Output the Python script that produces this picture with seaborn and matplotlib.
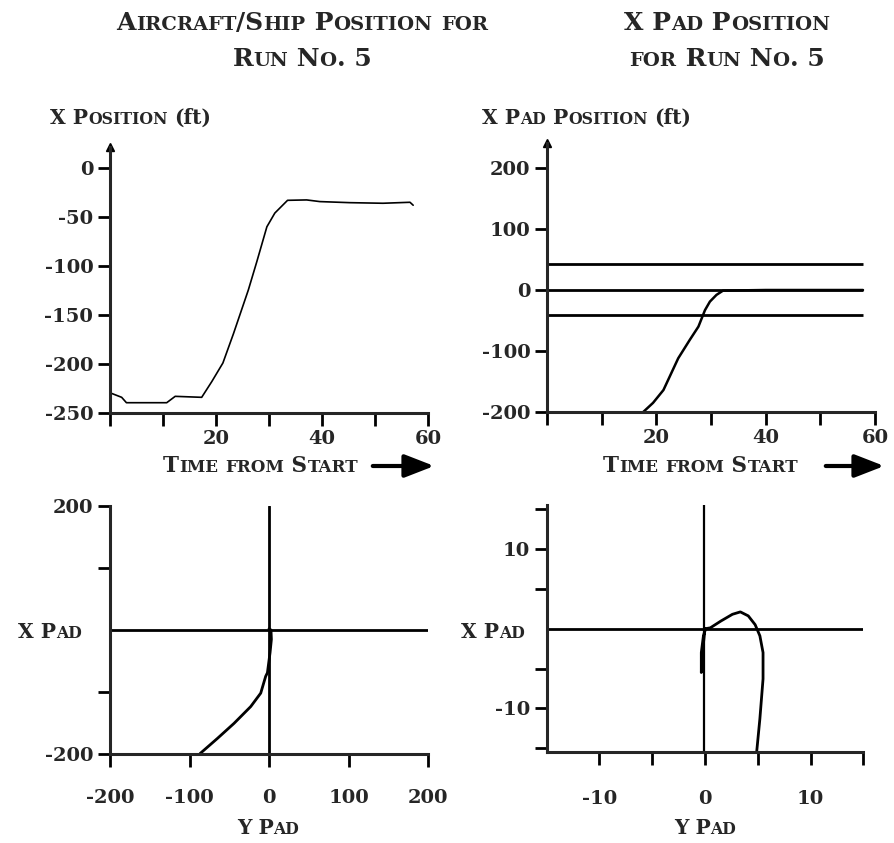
import matplotlib
matplotlib.use("Agg")
import pandas as pd
import seaborn as sns
import matplotlib.pyplot as plt

W, H = 894, 843

# Aircraft/ship X position vs time (top left)
time_tl = [0.3, 2.2, 3.1, 10.7, 12.3, 17.3, 19.2, 21.3, 23.3, 26.1, 27.7, 29.6,
           31.1, 33.5, 37.1, 39.6, 45.3, 51.5, 56.6, 57.2]
xpos_tl = [-230, -234, -239.5, -239.5, -233, -234, -218, -199, -169, -124.5, -95.6, -60,
           -46, -33, -32.6, -34.3, -35.4, -36, -35, -38]

# X pad position vs time (top right)
time_tr = [17.6, 19.4, 21.3, 24.0, 26.1, 27.7, 28.9, 29.8, 31.0, 32.2, 40.0, 50.0, 57.8]
xpad_tr = [-200, -185, -164, -112, -82, -60, -33, -19, -8, -1, 0, 0, 0]
pad_limits = [42, 0, -41]
pad_time_end = 57.8

# X pad vs Y pad, wide view (bottom left)
ypad_bl = [-86.8, -65, -44, -23, -10.4, -4.2, -2, 1.3, 3, 2.5, 0]
xpad_bl = [-199.4, -175, -150.6, -123.5, -101.8, -74.8, -69, -36.7, -15, 0, 2]

# X pad vs Y pad, close view (bottom right)
ypad_br = [4.9, 5.2, 5.5, 5.5, 5.2, 4.75, 4.1, 3.35, 2.6, 1.5, 0.5, 0.05, -0.15, -0.35, -0.35, -0.2, 0.0]
xpad_br = [-15.4, -11.3, -6.3, -3.0, -0.9, 0.5, 1.6, 2.1, 1.8, 0.95, 0.1, 0.0, -0.9, -3.0, -5.5, -2.5, 0.0]

sns.set_style("ticks")
plt.rcParams['font.family'] = ['DejaVu Serif']
plt.rcParams['font.weight'] = 'bold'
plt.rcParams['axes.unicode_minus'] = False

fig = plt.figure(figsize=(W / 100, H / 100), dpi=100)
renderer = fig.canvas.get_renderer()


def small_caps(x, y, s, size, ha='left', tail=''):
    """draw s in small caps at pixel position (x, baseline y); tail is drawn as-is"""
    runs = []
    for ch in s:
        sz = size * 0.78 if ch.islower() else size
        if runs and runs[-1][1] == sz:
            runs[-1][0] += ch.upper()
        else:
            runs.append([ch.upper(), sz])
    if tail:
        runs.append([tail, size])
    texts = []
    widths = []
    for t, sz in runs:
        txt = fig.text(0, 1 - y / H, t, fontsize=sz, fontweight='bold', va='baseline', ha='left')
        texts.append(txt)
        widths.append(txt.get_window_extent(renderer).width)
    total = sum(widths)
    start = x - {'left': 0, 'center': total / 2, 'right': total}[ha]
    for txt, w in zip(texts, widths):
        txt.set_x(start / W)
        start += w


def px_axes(l, t, r, b):
    return fig.add_axes([l / W, 1 - b / H, (r - l) / W, (b - t) / H])


def style(ax, xpad=3):
    for s in ['top', 'right']:
        ax.spines[s].set_visible(False)
    for s in ['left', 'bottom']:
        ax.spines[s].set_linewidth(2.2)
    ax.tick_params(length=9, width=2, labelsize=14, pad=3, color='black')
    ax.tick_params(axis='x', pad=xpad)
    ax.set_xlabel('')
    ax.set_ylabel('')


def up_arrow(ax):
    ax.plot(0, 1, marker='^', color='black', ms=6, transform=ax.transAxes, clip_on=False)


# ---- top left
ax1 = px_axes(110, 147, 428, 413)
sns.lineplot(x=time_tl, y=xpos_tl, sort=False, estimator=None, color='black', lw=1.2, ax=ax1)
ax1.set_xlim(0, 60)
ax1.set_ylim(-250, 21.4)
ax1.set_xticks(range(0, 61, 10))
ax1.set_xticklabels(['', '', '20', '', '40', '', '60'])
ax1.set_yticks(range(0, -251, -50))
style(ax1)
up_arrow(ax1)

# ---- top right
ax2 = px_axes(547, 143, 875, 412)
ax2.hlines(pad_limits, 0, pad_time_end, color='black', lw=2)
sns.lineplot(x=time_tr, y=xpad_tr, sort=False, estimator=None, color='black', lw=1.8, ax=ax2)
ax2.set_xlim(0, 60)
ax2.set_ylim(-200, 241)
ax2.set_xticks(range(0, 61, 10))
ax2.set_xticklabels(['', '', '20', '', '40', '', '60'])
ax2.set_yticks([200, 100, 0, -100, -200])
style(ax2)
up_arrow(ax2)

# ---- bottom left
ax3 = px_axes(110, 506, 428, 754)
ax3.axhline(0, color='black', lw=2)
ax3.axvline(0, color='black', lw=2)
sns.lineplot(x=ypad_bl, y=xpad_bl, sort=False, estimator=None, color='black', lw=2, ax=ax3)
ax3.set_xlim(-200, 200)
ax3.set_ylim(-200, 200)
ax3.set_xticks([-200, -100, 0, 100, 200])
ax3.set_yticks([-200, -100, 100, 200])
ax3.set_yticklabels(['-200', '', '', '200'])
style(ax3, xpad=16)

# ---- bottom right
ax4 = px_axes(546.7, 505, 863.3, 752.3)
ax4.axhline(0, color='black', lw=2)
ax4.axvline(-0.1, color='black', lw=1.6)
sns.lineplot(x=ypad_br, y=xpad_br, sort=False, estimator=None, color='black', lw=2, ax=ax4)
ax4.set_xlim(-15, 15)
ax4.set_ylim(-15.5, 15.5)
ax4.set_xticks([-10, -5, 0, 5, 10, 15])
ax4.set_xticklabels(['-10', '', '0', '', '10', ''])
ax4.set_yticks([-15, -10, -5, 5, 10, 15])
ax4.set_yticklabels(['', '-10', '', '', '10', ''])
style(ax4, xpad=18)

# ---- titles and labels
small_caps(302, 30, 'Aircraft/Ship Position for', 18, ha='center')
small_caps(302, 66, 'Run No. 5', 18, ha='center')
small_caps(727, 30, 'X Pad Position', 18, ha='center')
small_caps(727, 66, 'for Run No. 5', 18, ha='center')
small_caps(50, 124, 'X Position ', 14.5, tail='(ft)')
small_caps(482, 124, 'X Pad Position ', 14.5, tail='(ft)')
small_caps(163, 472, 'Time from Start', 15.5)
small_caps(603, 472, 'Time from Start', 15.5)
small_caps(82, 638, 'X Pad', 14.5, ha='right')
small_caps(525, 638, 'X Pad', 14.5, ha='right')
small_caps(268, 834, 'Y Pad', 14.5, ha='center')
small_caps(705, 834, 'Y Pad', 14.5, ha='center')

for x0, x1 in [(370, 437), (823, 887)]:
    fig.add_artist(matplotlib.patches.FancyArrowPatch(
        (x0 / W, 1 - 466 / H), (x1 / W, 1 - 466 / H), transform=fig.transFigure,
        arrowstyle='-|>,head_length=0.9,head_width=0.35', mutation_scale=20, lw=3, color='black'))

fig.savefig('out.png', dpi=100)
